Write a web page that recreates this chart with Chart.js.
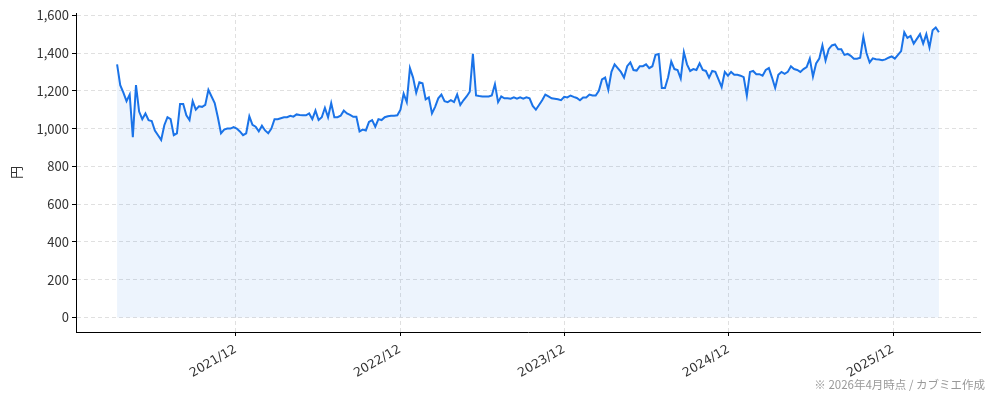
<!DOCTYPE html>
<html><head><meta charset="utf-8">
<script src="https://cdn.jsdelivr.net/npm/chart.js@4/dist/chart.umd.min.js"></script>
<style>html,body{margin:0;padding:0;background:#fff}</style>
</head><body>
<canvas id="c" width="994" height="400"></canvas>
<script>
// ---- data ----
const startDate = '2021-03-12';   // first weekly observation
const stepDays = 7;                // weekly closes
const prices = [
  1340,1230,1190,1145,1180,955,1230,1090,1050,1080,
  1044,1040,990,965,940,1018,1060,1050,965,975,
  1130,1130,1070,1045,1145,1100,1118,1115,1125,1205,
  1170,1135,1060,975,995,1000,1000,1008,1000,985,
  965,975,1065,1020,1010,985,1015,990,975,1000,
  1050,1050,1055,1060,1060,1068,1063,1075,1072,1070,
  1070,1080,1050,1095,1045,1060,1110,1060,1135,1060,
  1060,1068,1095,1080,1072,1062,1062,985,995,990,
  1035,1045,1010,1050,1045,1060,1065,1068,1068,1070,
  1100,1185,1140,1320,1270,1190,1245,1240,1155,1165,
  1080,1115,1160,1180,1145,1140,1150,1140,1180,1125,
  1150,1170,1195,1395,1175,1172,1170,1170,1170,1175,
  1235,1140,1170,1160,1160,1158,1165,1158,1165,1158,
  1165,1160,1120,1100,1125,1150,1180,1170,1160,1158,
  1155,1150,1168,1165,1175,1168,1162,1150,1165,1165,
  1180,1175,1175,1200,1260,1270,1205,1300,1340,1320,
  1300,1270,1330,1350,1310,1307,1330,1330,1340,1320,
  1330,1390,1395,1215,1215,1272,1355,1315,1310,1265,
  1405,1340,1305,1315,1310,1345,1310,1305,1270,1305,
  1300,1260,1220,1300,1280,1300,1285,1285,1280,1272,
  1175,1300,1305,1288,1288,1280,1310,1320,1270,1215,
  1285,1300,1290,1300,1330,1315,1310,1300,1315,1325,
  1370,1275,1345,1370,1440,1360,1420,1440,1445,1420,
  1420,1390,1395,1385,1370,1370,1375,1485,1400,1350,
  1372,1367,1366,1362,1366,1375,1382,1370,1390,1410,
  1510,1480,1490,1450,1475,1500,1450,1500,1430,1520,
  1535,1510
];
const tickDates = ['2021-12-01','2022-12-01','2023-12-01','2024-12-01','2025-12-01'];
const tickLabels = ['2021/12','2022/12','2023/12','2024/12','2025/12'];
const yTickValues = [0,200,400,600,800,1000,1200,1400,1600];
const yLabel = '円';
const note = '※ 2026年4月時点 / カブミエ作成';

// ---- build ----
const DAY = 86400000;
const t0 = Date.parse(startDate);
const points = prices.map((v, i) => ({x: t0 + i * stepDays * DAY, y: v}));
const xFirst = points[0].x, xLast = points[points.length - 1].x;
const xPad = (xLast - xFirst) * 0.05;
const yTop = Math.max(...prices);
const yPad = yTop * 0.05;

const FONT = "'Noto Sans CJK JP', 'Noto Sans', sans-serif";
const XFONT = "'DejaVu Sans', 'Noto Sans CJK JP', sans-serif";
const textColor = '#333';

const notePlugin = {
  id: 'note',
  afterDraw(chart) {
    const ctx = chart.ctx;
    ctx.save();
    ctx.font = "11.5px " + FONT;
    ctx.fillStyle = '#999';
    ctx.textAlign = 'right';
    ctx.textBaseline = 'alphabetic';
    ctx.fillText(note, 985, 389);
    ctx.restore();
  }
};

new Chart(document.getElementById('c'), {
  type: 'line',
  data: {
    datasets: [{
      data: points,
      borderColor: '#1a73e8',
      borderWidth: 2,
      backgroundColor: 'rgba(26,115,232,0.08)',
      fill: 'origin',
      pointRadius: 0,
      tension: 0
    }]
  },
  options: {
    responsive: false,
    animation: false,
    layout: {padding: {left: 6, right: 14, top: 13, bottom: 0}},
    plugins: {legend: {display: false}, tooltip: {enabled: false}},
    scales: {
      x: {
        type: 'linear',
        min: xFirst - xPad,
        max: xLast + xPad,
        afterBuildTicks: s => { s.ticks = tickDates.map(d => ({value: Date.parse(d)})); },
        afterFit: s => { s.height = 68; },
        ticks: {
          autoSkip: false, minRotation: 30, maxRotation: 30, padding: 6,
          color: textColor, font: {family: XFONT, size: 12.5},
          callback: (v, i) => tickLabels[i]
        },
        grid: {color: '#e0e0e0', tickColor: '#000', tickLength: 4, tickBorderDash: []},
        border: {display: true, color: '#000', width: 1, dash: [4, 3]}
      },
      y: {
        type: 'linear',
        min: -yPad,
        max: yTop + yPad,
        afterBuildTicks: s => { s.ticks = yTickValues.map(v => ({value: v})); },
        afterFit: s => { s.width = 70; },
        ticks: {
          padding: 3, color: textColor, font: {family: FONT, size: 13},
          callback: v => v.toLocaleString('en-US')
        },
        grid: {color: '#e0e0e0', tickColor: '#000', tickLength: 4, tickBorderDash: []},
        border: {display: true, color: '#000', width: 1, dash: [4, 3]},
        title: {display: true, text: yLabel, color: textColor, font: {family: FONT, size: 13}, padding: {top: 2, bottom: 2}}
      }
    }
  },
  plugins: [notePlugin]
});
</script>
</body></html>
